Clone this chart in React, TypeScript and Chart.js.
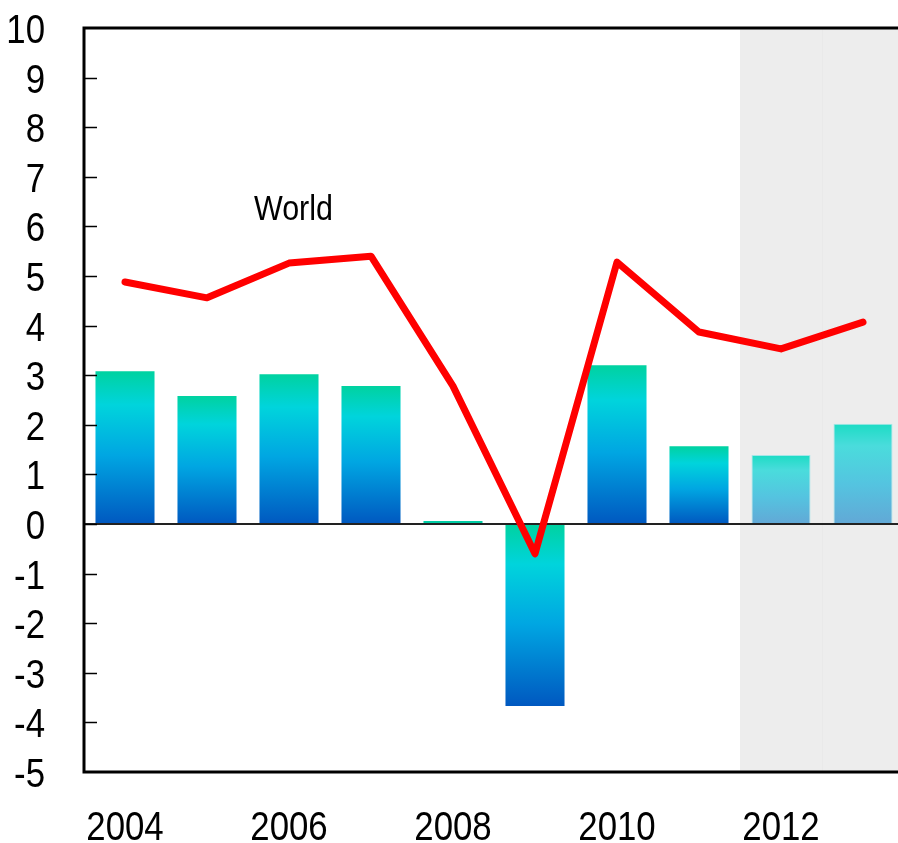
import React, { useEffect, useRef } from "react";
import { Chart, registerables } from "chart.js";

Chart.register(...registerables);

const years = ["2004", "2005", "2006", "2007", "2008", "2009", "2010", "2011", "2012", "2013"];
const barValues = [3.08, 2.58, 3.02, 2.78, 0.06, -3.67, 3.2, 1.57, 1.39, 2.02];
const worldValues = [4.88, 4.56, 5.26, 5.4, 2.78, -0.6, 5.28, 3.87, 3.53, 4.07];
const projectionStart = 8;
const yMin = -5;
const yMax = 10;
const lineLabel = "World";

const FONT = "'Liberation Sans', Arial, sans-serif";
const SX = 0.87;

function narrowText(ctx: any, text: string, x: number, y: number, align: "left" | "right" | "center", size: number) {
  ctx.save();
  ctx.font = size + "px " + FONT;
  ctx.textBaseline = "alphabetic";
  ctx.textAlign = align;
  ctx.fillStyle = "#000";
  ctx.translate(x, y);
  ctx.scale(SX, 1);
  ctx.fillText(text, 0, 0);
  ctx.restore();
}

export default function App() {
  const ref = useRef<HTMLCanvasElement | null>(null);

  useEffect(() => {
    const canvas = ref.current;
    if (!canvas) return;

    const decor = {
      id: "decor",
      beforeDatasetsDraw(chart: any) {
        const { ctx, chartArea } = chart;
        const x = chart.scales.x;
        const x0 = (x.getPixelForValue(projectionStart - 1) + x.getPixelForValue(projectionStart)) / 2;
        ctx.save();
        ctx.fillStyle = "#ededed";
        ctx.fillRect(x0, chartArea.top, chartArea.right - x0, chartArea.bottom - chartArea.top);
        const xm = (x.getPixelForValue(projectionStart) + x.getPixelForValue(projectionStart + 1)) / 2;
        ctx.strokeStyle = "#e9e9e9";
        ctx.lineWidth = 1;
        ctx.beginPath();
        ctx.moveTo(Math.round(xm) + 0.5, chartArea.top);
        ctx.lineTo(Math.round(xm) + 0.5, chartArea.bottom);
        ctx.stroke();
        ctx.restore();
      },
      afterDatasetDraw(chart: any, args: any) {
        if (args.meta.type !== "bar") return;
        const { ctx, chartArea } = chart;
        const y0 = chart.scales.y.getPixelForValue(0);
        ctx.save();
        ctx.strokeStyle = "#222";
        ctx.lineWidth = 2;
        ctx.beginPath();
        ctx.moveTo(chartArea.left, y0);
        ctx.lineTo(chartArea.right, y0);
        ctx.stroke();
        ctx.restore();
      },
      afterDraw(chart: any) {
        const { ctx, chartArea } = chart;
        const y = chart.scales.y;
        const x = chart.scales.x;
        ctx.save();
        ctx.strokeStyle = "#000";
        ctx.lineWidth = 1.5;
        for (let v = yMin + 1; v < yMax; v++) {
          const py = Math.round(y.getPixelForValue(v)) + 0.5;
          ctx.beginPath();
          ctx.moveTo(chartArea.left, py);
          ctx.lineTo(chartArea.left + 13, py);
          ctx.stroke();
        }
        ctx.lineWidth = 3;
        ctx.beginPath();
        ctx.moveTo(chartArea.right, chartArea.top);
        ctx.lineTo(chartArea.left, chartArea.top);
        ctx.lineTo(chartArea.left, chartArea.bottom);
        ctx.lineTo(chartArea.right, chartArea.bottom);
        ctx.stroke();
        ctx.restore();

        y.ticks.forEach((t: any) => {
          const py = y.getPixelForValue(t.value);
          narrowText(ctx, String(t.value), chartArea.left - 39, py + 15, "right", 40);
        });
        years.forEach((lab, i) => {
          if (i % 2 !== 0) return;
          const px = x.getPixelForValue(i);
          narrowText(ctx, lab, px, chartArea.bottom + 68, "center", 40);
        });
        narrowText(ctx, lineLabel, 254, 220, "left", 35);
      },
    };

    const barColor = (c: any) => {
      const chart = c.chart;
      if (c.type !== "data" || !chart.scales || !chart.scales.y) return "#00b0e0";
      const ys = chart.scales.y;
      const p1 = ys.getPixelForValue(c.raw);
      const p0 = ys.getPixelForValue(0);
      if (!isFinite(p1) || !isFinite(p0)) return "#00b0e0";
      const top = Math.min(p0, p1);
      const bot = Math.max(p0, p1) + 0.01;
      if (bot - top < 8) return "#00cca4";
      const g = chart.ctx.createLinearGradient(0, top, 0, bot);
      if (c.dataIndex >= projectionStart) {
        g.addColorStop(0, "#1cdcc4");
        g.addColorStop(0.22, "#4adcdc");
        g.addColorStop(0.6, "#54c4e0");
        g.addColorStop(1, "#62a8d6");
      } else {
        g.addColorStop(0, "#00d2a0");
        g.addColorStop(0.22, "#00d4dc");
        g.addColorStop(0.55, "#00a6e2");
        g.addColorStop(1, "#0058c0");
      }
      return g;
    };

    const chart = new Chart(canvas, {
      type: "bar",
      data: {
        labels: years,
        datasets: [
          {
            type: "line",
            label: lineLabel,
            data: worldValues,
            borderColor: "#ff0000",
            borderWidth: 7,
            pointRadius: 0,
            pointHoverRadius: 0,
            tension: 0,
            borderJoinStyle: "round",
            borderCapStyle: "round",
            fill: false,
            order: 0,
          } as any,
          {
            type: "bar",
            label: "bars",
            data: barValues,
            backgroundColor: barColor,
            borderColor: (c: any) => (c.dataIndex >= projectionStart ? "#a6e6e8" : "rgba(0,0,0,0)"),
            borderWidth: (c: any) => (c.dataIndex >= projectionStart ? 1 : 0),
            categoryPercentage: 1,
            barPercentage: 0.72,
            order: 1,
          } as any,
        ],
      },
      options: {
        responsive: false,
        maintainAspectRatio: false,
        animation: false,
        layout: { padding: { top: 28, right: 6, left: 0, bottom: 0 } },
        plugins: {
          legend: { display: false },
          tooltip: { enabled: false },
        },
        scales: {
          x: {
            offset: true,
            grid: { display: false, drawTicks: false },
            border: { display: false },
            ticks: { display: false, autoSkip: false },
            afterFit: (s: any) => {
              s.height = 71;
              s.paddingLeft = 0;
              s.paddingRight = 0;
            },
          },
          y: {
            min: yMin,
            max: yMax,
            grid: { display: false, drawTicks: false },
            border: { display: false },
            ticks: { display: false, stepSize: 1, autoSkip: false },
            afterFit: (s: any) => {
              s.width = 84;
              s.paddingTop = 0;
              s.paddingBottom = 0;
            },
          },
        },
      },
      plugins: [decor],
    } as any);

    return () => chart.destroy();
  }, []);

  return (
    <div style={{ position: "fixed", left: 0, top: 0, width: 898, height: 843, overflow: "hidden", background: "#fff" }}>
      <canvas ref={ref} width={910} height={843} style={{ width: 910, height: 843, display: "block" }} />
    </div>
  );
}
